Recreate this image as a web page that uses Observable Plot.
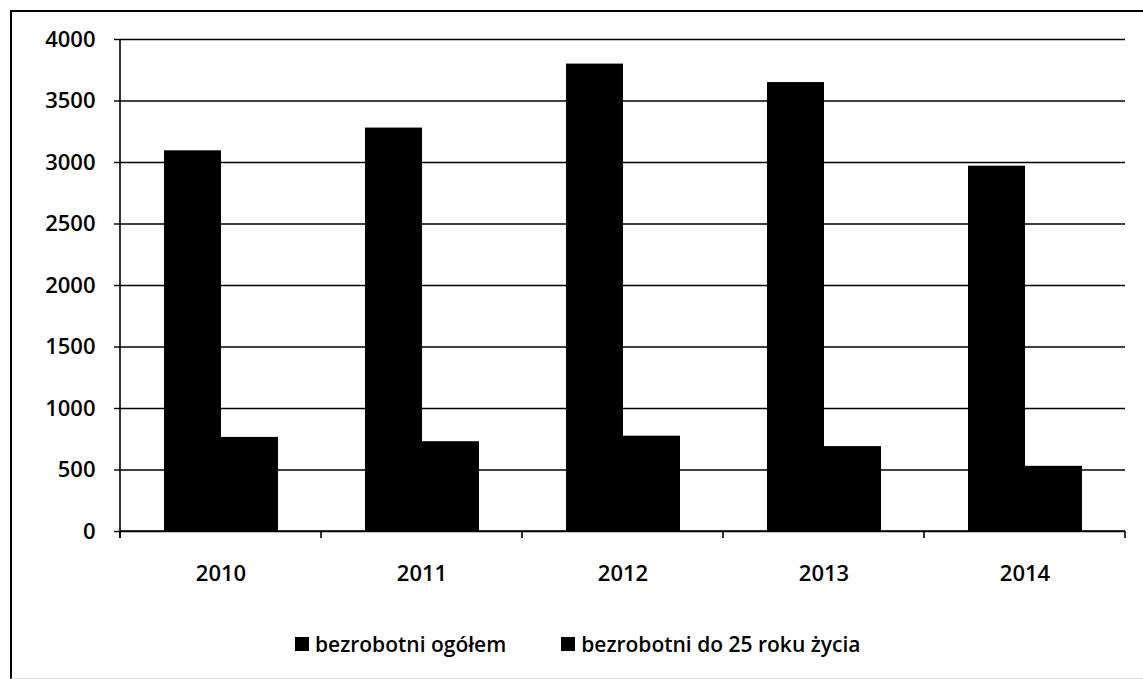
<!DOCTYPE html>
<html>
<head>
<meta charset="utf-8">
<script src="https://cdn.jsdelivr.net/npm/d3@7"></script>
<script src="https://cdn.jsdelivr.net/npm/@observablehq/plot@0.6"></script>
<style>
  body { margin: 0; background: #fff; font-family: "Open Sans", sans-serif; }
  #wrap { position: relative; width: 1143px; height: 679px; overflow: hidden; background: #fff; }
  #frame { position: absolute; left: 10px; top: 10px; width: 1150px; height: 666px;
           border-left: 2px solid #000; border-top: 2px solid #000; border-bottom: 1px solid #ddd; }
  #chart { position: absolute; left: 0; top: 0; }
  #legend { position: absolute; left: 295px; top: 630px; display: flex; align-items: center;
            font-size: 21px; font-weight: 600; color: #000; white-space: nowrap; }
  .item { display: flex; align-items: center; }
  .sw { width: 14px; height: 14px; background: #000; margin-right: 6px; }
</style>
</head>
<body>
<div id="wrap">
  <div id="frame"></div>
  <div id="chart"></div>
  <div id="legend"></div>
</div>
<script>
const years = ["2010", "2011", "2012", "2013", "2014"];
const seriesNames = ["bezrobotni ogółem", "bezrobotni do 25 roku życia"];
const ogolem = [3095, 3280, 3800, 3650, 2970];
const do25 = [765, 730, 775, 690, 530];
const yTicks = [0, 500, 1000, 1500, 2000, 2500, 3000, 3500, 4000];
const seriesColors = ["#000", "#000"];

const data = years.flatMap((yr, i) => [
  {year: yr, series: seriesNames[0], value: ogolem[i]},
  {year: yr, series: seriesNames[1], value: do25[i]}
]);

const chart = Plot.plot({
  width: 1143,
  height: 600,
  marginLeft: 118,
  marginRight: 16,
  marginTop: 39,
  marginBottom: 69,
  style: {fontFamily: "Open Sans, sans-serif", fontSize: "22px", fontWeight: 600, color: "#000", background: "transparent", overflow: "visible"},
  fx: {domain: years, padding: 0, label: null},
  x: {domain: seriesNames, paddingInner: 0, paddingOuter: 0.74, axis: null},
  y: {domain: [0, 4000], label: null},
  color: {domain: seriesNames, range: seriesColors},
  marks: [
    Plot.gridY(yTicks, {stroke: "#000", strokeOpacity: 1, strokeWidth: 1.4}),
    Plot.barY(data, {fx: "year", x: "series", y: "value", fill: "series", inset: 0}),
    Plot.axisY(yTicks, {tickSize: 6, tickPadding: 19, tickFormat: "d", label: null, fontSize: 22, stroke: "#000", strokeWidth: 1.4}),
    Plot.axisFx({anchor: "bottom", tickSize: 0, tickPadding: 34, label: null, fontSize: 22})
  ]
});

document.getElementById("chart").appendChild(chart);

// axis spine and band-boundary ticks derived from the Plot scales
const fxs = chart.scale("fx");
const ys = chart.scale("y");
const svg = d3.select(chart);
const y0 = ys.apply(0);
const yTop = ys.apply(4000);
const edges = years.map(yr => fxs.apply(yr));
edges.push(fxs.apply(years[years.length - 1]) + fxs.bandwidth);
const g = svg.append("g").attr("stroke", "#000").attr("stroke-width", 1.6);
g.append("line").attr("x1", edges[0]).attr("x2", edges[0]).attr("y1", yTop).attr("y2", y0 + 7);
g.append("line").attr("x1", edges[0]).attr("x2", edges[edges.length - 1]).attr("y1", y0).attr("y2", y0);
edges.forEach(x => g.append("line").attr("x1", x).attr("x2", x).attr("y1", y0).attr("y2", y0 + 7));

// legend
const legend = d3.select("#legend");
seriesNames.forEach((name, i) => {
  const it = legend.append("div").attr("class", "item").style("margin-right", i === 0 ? "55px" : "0");
  it.append("div").attr("class", "sw").style("background", seriesColors[i]);
  it.append("span").text(name);
});
</script>
</body>
</html>
